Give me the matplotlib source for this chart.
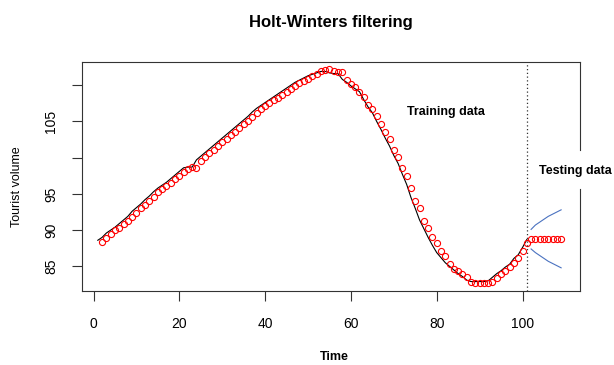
import numpy as np
import matplotlib
matplotlib.use("Agg")
import matplotlib.pyplot as plt

plt.rcParams['font.family'] = ['Liberation Sans', 'DejaVu Sans']

# observed series, t = 1..101
observed = [88.6, 89.0, 89.6, 90.0, 90.4, 90.9, 91.4, 91.9, 92.6, 93.1,
            93.6, 94.2, 94.7, 95.3, 95.8, 96.2, 96.6, 97.1, 97.6, 98.1,
            98.6, 98.7, 98.7, 99.7, 100.2, 100.7, 101.2, 101.7, 102.2, 102.7,
            103.2, 103.7, 104.2, 104.7, 105.2, 105.7, 106.3, 106.8, 107.2, 107.6,
            108.0, 108.4, 108.8, 109.2, 109.6, 110.0, 110.4, 110.7, 111.0, 111.3,
            111.5, 111.7, 111.9, 111.9, 111.7, 111.6, 111.6, 110.8, 110.4, 109.9,
            109.5, 109.1, 108.0, 107.0, 106.2, 105.0, 103.9, 102.7, 101.6, 100.3,
            99.2, 97.7, 96.3, 94.5, 93.0, 91.4, 90.2, 89.0, 87.9, 86.9,
            86.2, 85.5, 85.0, 84.5, 84.0, 83.6, 83.1, 82.9, 82.9, 82.9,
            82.9, 83.0, 83.5, 84.0, 84.4, 84.9, 85.3, 86.1, 86.6, 87.6,
            88.7]

# Holt-Winters fitted values, t = 2..101
fitted = [88.4, 88.9, 89.5, 90.0, 90.3, 90.8, 91.3, 91.8, 92.4,
          93.0, 93.5, 94.0, 94.6, 95.2, 95.7, 96.1, 96.5, 97.0, 97.5,
          98.0, 98.5, 98.7, 98.6, 99.6, 100.1, 100.6, 101.1, 101.6, 102.1,
          102.6, 103.1, 103.6, 104.1, 104.6, 105.1, 105.6, 106.2, 106.7, 107.1,
          107.5, 107.9, 108.3, 108.7, 109.1, 109.5, 109.9, 110.3, 110.6, 110.9,
          111.3, 111.6, 111.9, 112.1, 112.2, 112.0, 111.8, 111.8, 110.7, 110.2,
          109.7, 109.0, 108.4, 107.3, 106.7, 105.7, 104.7, 103.5, 102.6, 101.0,
          100.1, 98.6, 97.5, 95.8, 94.0, 93.0, 91.3, 90.3, 89.0, 88.2,
          87.1, 86.4, 85.3, 84.7, 84.3, 83.9, 83.5, 82.8, 82.7, 82.7,
          82.7, 82.7, 82.8, 83.4, 84.0, 84.4, 84.9, 85.5, 86.2, 87.1,
          88.2]
fitted = fitted[:100]

# forecast, t = 102..109
forecast = [88.8, 88.8, 88.8, 88.8, 88.8, 88.8, 88.8, 88.8]
upper = [90.1, 90.7, 91.1, 91.5, 91.9, 92.2, 92.5, 92.8]
lower = [87.4, 86.9, 86.5, 86.1, 85.7, 85.4, 85.1, 84.8]

yticks = [85, 90, 95, 100, 105, 110]
ytick_labels = ['85', '90', '95', '', '105', '']
xticks = [0, 20, 40, 60, 80, 100]
split = 101

t_obs = np.arange(1, len(observed) + 1)
t_fit = np.arange(2, len(fitted) + 2)
t_fc = np.arange(split + 1, split + 1 + len(forecast))

W, H = 614, 365
fig = plt.figure(figsize=(W / 100, H / 100), dpi=100)
ax = fig.add_axes([81.5 / W, 1 - 291 / H, (580 - 81.5) / W, (291 - 62) / H])

ax.plot(t_obs, observed, color='black', lw=0.8)
ax.plot(t_fit, fitted, 'o', mfc='none', mec='red', ms=4.4, mew=0.8)
ax.plot(t_fc, forecast, 'o', mfc='none', mec='red', ms=4.4, mew=0.8)
ax.plot(t_fc, upper, color='#4a72c0', lw=0.8)
ax.plot(t_fc, lower, color='#4a72c0', lw=0.8)
ax.axvline(split, color='#333333', lw=0.9, linestyle=(0, (1, 2)))

ax.set_xlim(-2.8, 113.4)
ax.set_ylim(81.6, 113.2)
ax.set_xticks(xticks)
ax.set_yticks(yticks)
ax.set_yticklabels(ytick_labels, rotation=90, va='center')
ax.tick_params(axis='both', labelsize=10, length=7, width=0.8, color='#333333')
ax.tick_params(axis='x', pad=12)
ax.tick_params(axis='y', pad=10)

for s in ['left', 'top', 'bottom']:
    ax.spines[s].set_linewidth(0.8)
    ax.spines[s].set_color('#333333')
ax.spines['right'].set_visible(False)
# right border broken by the "Testing data" label
ax.plot([1, 1], [0, 0.445], transform=ax.transAxes, color='#333333', lw=0.8, clip_on=False)
ax.plot([1, 1], [0.616, 1], transform=ax.transAxes, color='#333333', lw=0.8, clip_on=False)

fig.text(446 / W, 1 - 112 / H, 'Training data', ha='center', va='center',
         fontsize=9, fontweight='bold')
fig.text(575 / W, 1 - 171 / H, 'Testing data', ha='center', va='center',
         fontsize=9, fontweight='bold')

fig.text(331 / W, 1 - 22 / H, 'Holt-Winters filtering', ha='center', va='center',
         fontsize=12, fontweight='bold')
fig.text(17 / W, 1 - 187 / H, 'Tourist volume', ha='center', va='center',
         rotation=90, fontsize=9)
fig.text(334 / W, 1 - 363 / H, 'Time', ha='center', va='bottom', fontsize=9, fontweight='bold')

fig.savefig('out.png', dpi=100)
